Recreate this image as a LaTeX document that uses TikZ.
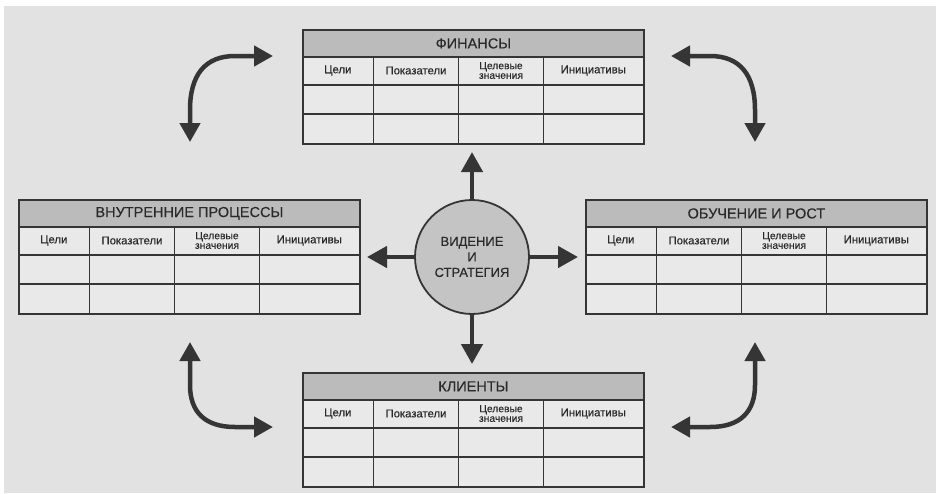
\documentclass[tikz,border=0pt]{standalone}
\usepackage{fontspec}
\setmainfont{Liberation Sans}[FakeBold=0.3]
\usetikzlibrary{arrows.meta}
\definecolor{bg}{HTML}{E2E2E2}
\definecolor{ln}{HTML}{353535}
\definecolor{txt}{HTML}{2A2A2A}
\definecolor{titlefill}{HTML}{BBBBBB}
\definecolor{cellfill}{HTML}{E9E9E9}
\definecolor{circfill}{HTML}{C4C4C4}
\tikzset{
  tablebox/.style={draw=ln, line width=1.8pt, fill=cellfill, minimum width=341pt, minimum height=114pt, inner sep=0pt},
  titlebox/.style={draw=ln, line width=1.8pt, fill=titlefill, minimum width=341pt, minimum height=27pt, inner sep=0pt, text=txt, font=\fontsize{14.5}{15}\selectfont},
  gridline/.style={draw=ln, line width=1.5pt},
  hdr/.style={text=txt, font=\fontsize{11.3}{12}\selectfont, inner sep=0pt, align=center},
  hdrtwo/.style={text=txt, font=\fontsize{10.3}{9.6}\selectfont, inner sep=0pt, align=center},
  visnode/.style={circle, draw=ln, line width=1.8pt, fill=circfill, minimum size=114pt, inner sep=0pt, align=center, text=txt, font=\fontsize{13}{15.5}\selectfont},
  bigarrow/.style={draw=ln, line width=4.5pt, -{Triangle[length=20pt,width=21pt]}},
  curvearrow/.style={draw=ln, line width=4.5pt, {Triangle[length=19pt,width=20pt]}-{Triangle[length=19pt,width=20pt]}},
}
\newcommand{\bsctable}[4]{%
  \begin{scope}[shift={(#2,#3)}]
    \node[tablebox, anchor=north west] (#1) at (0,0) {};
    \node[titlebox, anchor=north west] (#1-t) at (0,0) {#4};
    \draw[gridline] (0,56) -- (341,56) (0,85) -- (341,85);
    \draw[gridline] (71.5,27) -- (71.5,114) (156.5,27) -- (156.5,114) (241.5,27) -- (241.5,114);
    \node[hdr] (#1-c1) at (35.75,41.5) {Цели};
    \node[hdr] (#1-c2) at (114,41.5) {Показатели};
    \node[hdrtwo] (#1-c3) at (199,41.5) {Целевые\\значения};
    \node[hdr] (#1-c4) at (291.25,41.5) {Инициативы};
  \end{scope}}
\begin{document}
\begin{tikzpicture}[x=1pt,y=-1pt]
\fill[white] (0,0) rectangle (936,493);
\fill[bg] (4,6) rectangle (936,493);
\useasboundingbox (0,0) rectangle (936,493);

\bsctable{fin}{302}{29}{ФИНАНСЫ}
\bsctable{proc}{18}{199}{ВНУТРЕННИЕ ПРОЦЕССЫ}
\bsctable{learn}{585}{199}{ОБУЧЕНИЕ И РОСТ}
\bsctable{cli}{302}{372}{КЛИЕНТЫ}

\node[visnode] (vis) at (472,257) {ВИДЕНИЕ\\И\\СТРАТЕГИЯ};

\coordinate (upend) at (472,152);
\coordinate (downend) at (472,364);
\coordinate (leftend) at (367,257);
\coordinate (rightend) at (578,257);
\draw[bigarrow] (vis.north) -- (upend);
\draw[bigarrow] (vis.south) -- (downend);
\draw[bigarrow] (vis.west) -- (leftend);
\draw[bigarrow] (vis.east) -- (rightend);

\coordinate (tlA) at (190,142);
\coordinate (tlB) at (273,56);
\coordinate (trA) at (671,56);
\coordinate (trB) at (755,142);
\coordinate (blA) at (190,342);
\coordinate (blB) at (273,427);
\coordinate (brA) at (755,342);
\coordinate (brB) at (671,427);
\draw[curvearrow] (tlA) -- (190,110) .. controls (190,75) and (205,56) .. (235,56) -- (tlB);
\draw[curvearrow] (trA) -- (710,56) .. controls (740,56) and (755,75) .. (755,110) -- (trB);
\draw[curvearrow] (blA) -- (190,385) .. controls (190,412) and (205,427) .. (235,427) -- (blB);
\draw[curvearrow] (brA) -- (755,385) .. controls (755,412) and (740,427) .. (710,427) -- (brB);
\end{tikzpicture}
\end{document}
